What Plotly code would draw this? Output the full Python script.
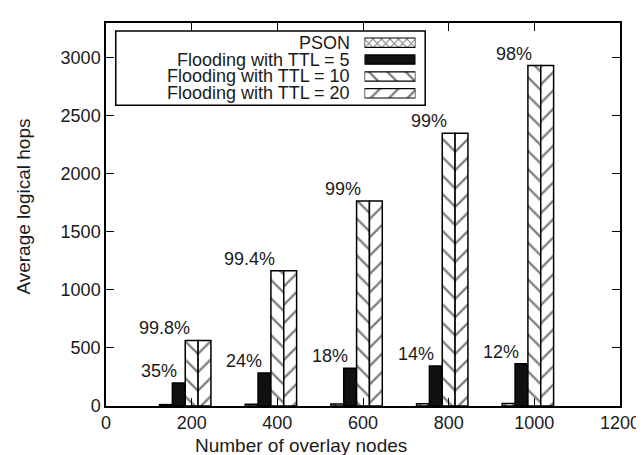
import plotly.graph_objects as go

# ---- data ----
nodes = [200, 400, 600, 800, 1000]
pson = [12, 15, 18, 20, 22]
ttl5 = [198, 285, 325, 345, 365]
ttl10 = [565, 1165, 1767, 2350, 2933]
ttl20 = [565, 1165, 1767, 2350, 2933]
pct_ttl5 = ["35%", "24%", "18%", "14%", "12%"]
pct_ttl10 = ["99.8%", "99.4%", "99%", "99%", "98%"]

series_names = ["PSON", "Flooding with TTL = 5",
                "Flooding with TTL = 10", "Flooding with TTL = 20"]
series_vals = [pson, ttl5, ttl10, ttl20]

FONT = "Liberation Sans, Arial, sans-serif"
INK = "#1a1a1a"
BAR_W = 30
offsets = [-75, -45, -15, 15]
patterns = [
    dict(shape="x", size=6, solidity=0.3, fgcolor="black", bgcolor="white"),
    dict(shape="", fgcolor="black", bgcolor="black"),
    dict(shape="\\", size=13, solidity=0.18, fgcolor="black", bgcolor="white"),
    dict(shape="/", size=13, solidity=0.18, fgcolor="black", bgcolor="white"),
]
fills = ["white", "#111111", "white", "white"]

fig = go.Figure()
for name, vals, off, pat, fc in zip(series_names, series_vals, offsets, patterns, fills):
    fig.add_trace(go.Bar(
        x=nodes, y=vals, name=name, offset=off, width=BAR_W,
        marker=dict(color=fc, pattern=pat, line=dict(color="black", width=1.5)),
        showlegend=False,
    ))
    # legend swatch on a hidden helper axis
    fig.add_trace(go.Bar(
        x=[1], y=[name], orientation="h", width=0.55,
        marker=dict(color=fc, pattern=pat, line=dict(color="black", width=1.2)),
        xaxis="x2", yaxis="y2", showlegend=False, hoverinfo="skip",
    ))

annotations = []
for n, v, t in zip(nodes, ttl5, pct_ttl5):
    annotations.append(dict(x=n - 30, y=v, text=t, xanchor="right", yanchor="bottom",
                            showarrow=False))
for n, v, t in zip(nodes, ttl10, pct_ttl10):
    annotations.append(dict(x=n, y=v, text=t, xanchor="right", yanchor="bottom",
                            showarrow=False))
for name in series_names:
    annotations.append(dict(x=0.478, xref="paper", y=name, yref="y2", text=name,
                            xanchor="right", yanchor="middle", showarrow=False))
# axis titles
annotations.append(dict(x=0.38, xref="paper", y=-0.102, yref="paper",
                        text="Number of overlay nodes", showarrow=False,
                        xanchor="center", yanchor="middle", font=dict(size=19)))
annotations.append(dict(x=-0.16, xref="paper", y=0.52, yref="paper",
                        text="Average logical hops", showarrow=False, textangle=-90,
                        xanchor="center", yanchor="middle", font=dict(size=19)))

axis_common = dict(
    showline=True, linecolor="black", linewidth=1.5, mirror="ticks",
    ticks="inside", ticklen=8, tickwidth=1.2, tickcolor="black",
    showgrid=False, zeroline=False,
    tickfont=dict(size=18, color=INK),
)

fig.update_layout(
    width=644, height=455,
    margin=dict(l=98, r=23, t=15, b=57),
    paper_bgcolor="white", plot_bgcolor="white",
    font=dict(family=FONT, size=18, color=INK),
    barmode="overlay",
    xaxis=dict(range=[0, 1200], tickvals=[0, 200, 400, 600, 800, 1000, 1200],
               **axis_common),
    yaxis=dict(range=[0, 3300], tickvals=[0, 500, 1000, 1500, 2000, 2500, 3000],
               **axis_common),
    xaxis2=dict(domain=[0.503, 0.602], range=[0, 1], visible=False, fixedrange=True,
                anchor="y2"),
    yaxis2=dict(domain=[0.785, 0.98], visible=False, fixedrange=True, anchor="x2",
                categoryorder="array", categoryarray=series_names[::-1]),
    annotations=annotations,
    shapes=[dict(type="rect", xref="paper", yref="paper", x0=0.019, x1=0.621,
                 y0=0.785, y1=0.979, line=dict(color="black", width=1.5),
                 fillcolor="rgba(0,0,0,0)")],
)

fig.write_html("out.html")
